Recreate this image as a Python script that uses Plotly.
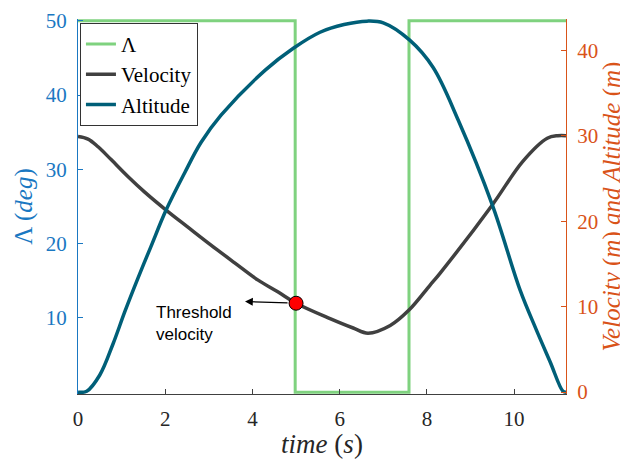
import plotly.graph_objects as go

# ---- data ----
t_lambda = [0, 4.98, 7.59, 11.19]
lam = [50, 0, 50, 50]

t_vel = [0, 0.23, 0.46, 0.76, 1.15, 1.53, 2.02, 2.52, 3.05, 3.6, 4.13, 4.59, 5.0,
         5.78, 6.31, 6.65, 7.16, 7.59, 8.07, 8.30, 9.5, 10.2, 10.76, 11.0, 11.19]
vel = [29.9, 29.6, 28.7, 27.2, 25.2, 23.4, 21.3, 19.3, 17.2, 15.1, 13.1, 11.7, 10.4,
       8.6, 7.5, 6.9, 7.8, 9.6, 12.5, 13.9, 21.9, 27.0, 29.7, 30.0, 30.0]

t_alt = [0, 0.2, 0.5, 0.8, 1.08, 1.38, 1.67, 2.02, 2.45, 2.82, 3.28, 4.3, 4.93, 5.55,
         6.1, 6.63, 7.0, 7.6, 8.14, 8.72, 9.5, 10.14, 10.5, 10.83, 11.12, 11.19]
alt = [0, 0.1, 2.0, 5.6, 9.5, 13.4, 17.0, 21.3, 25.7, 29.2, 32.4, 37.7, 40.2, 42.1,
       43.0, 43.4, 43.2, 41.2, 38.0, 31.8, 21.9, 11.9, 7.4, 3.5, 0.1, 0]

thr_t = [5.0]
thr_v = [10.4]

x_ticks = [0, 2, 4, 6, 8, 10]
left_ticks = [10, 20, 30, 40, 50]
right_ticks = [0, 10, 20, 30, 40]

BLUE = "#1a78c2"
ORANGE = "#D95319"
GREEN = "#7fd27f"
GRAY = "#404040"
TEAL = "#005f78"
SERIF = "Liberation Serif, Times New Roman, serif"

fig = go.Figure()
fig.add_trace(go.Scatter(x=t_lambda, y=lam, mode="lines", name="Λ",
                         line=dict(color=GREEN, width=3, shape="hv"), yaxis="y"))
fig.add_trace(go.Scatter(x=t_vel, y=vel, mode="lines", name="Velocity",
                         line=dict(color=GRAY, width=3.5, shape="spline", smoothing=1.0), yaxis="y2"))
fig.add_trace(go.Scatter(x=t_alt, y=alt, mode="lines", name="Altitude",
                         line=dict(color=TEAL, width=3.5, shape="spline", smoothing=1.0), yaxis="y2"))
fig.add_trace(go.Scatter(x=thr_t, y=thr_v, mode="markers", showlegend=False,
                         marker=dict(color="red", size=14, line=dict(color="black", width=1)),
                         yaxis="y2"))

fig.add_annotation(x=3.83, y=10.6, xref="x", yref="y2", ax=thr_t[0], ay=thr_v[0],
                   axref="x", ayref="y2", text="", showarrow=True, arrowhead=2,
                   arrowsize=1.3, arrowwidth=1.2, arrowcolor="black", startstandoff=7)
fig.add_annotation(x=1.75, y=8.0, xref="x", yref="y2", text="Threshold<br>velocity",
                   showarrow=False, xanchor="left", yanchor="middle", align="left",
                   font=dict(family="Liberation Sans, Arial, sans-serif", size=17, color="black"))

# page body adds an 8px offset, so the figure is 8px smaller and margins shifted
fig.update_layout(
    width=620, height=451,
    margin=dict(l=70, r=62, t=11, b=65),
    plot_bgcolor="white", paper_bgcolor="white",
    font=dict(family=SERIF, size=21),
    xaxis=dict(range=[0, 11.19], tickvals=x_ticks, showline=True, linecolor=GRAY, linewidth=1,
               ticks="inside", ticklen=5, tickcolor=GRAY, showgrid=False, zeroline=False,
               automargin=False,
               tickfont=dict(family=SERIF, size=21, color="#262626"), ticklabelstandoff=6,
               title=dict(text="<i>time</i> (<i>s</i>)", font=dict(family=SERIF, size=27, color="#262626"),
                          standoff=0)),
    yaxis=dict(range=[-0.25, 50.25], tickvals=left_ticks, showline=True, linecolor=BLUE, linewidth=1,
               ticks="inside", ticklen=5, tickcolor=BLUE, showgrid=False, zeroline=False,
               automargin=False,
               tickfont=dict(family=SERIF, size=21, color=BLUE), ticklabelstandoff=6,
               title=dict(text="Λ (<i>deg</i>)", font=dict(family=SERIF, size=25, color=BLUE), standoff=6)),
    yaxis2=dict(range=[-0.22, 43.65], tickvals=right_ticks, overlaying="y", side="right",
                showline=True, linecolor=ORANGE, linewidth=1, ticks="inside", ticklen=5,
                tickcolor=ORANGE, showgrid=False, zeroline=False, automargin=False,
                tickfont=dict(family=SERIF, size=21, color=ORANGE), ticklabelstandoff=6,
                title=dict(text="<i>Velocity</i> (<i>m</i>) <i>and Altitude</i> (<i>m</i>)",
                           font=dict(family=SERIF, size=25, color=ORANGE), standoff=0)),
    legend=dict(x=0.004, y=0.99, xanchor="left", yanchor="top", bgcolor="white",
                bordercolor="#333333", borderwidth=1, font=dict(family=SERIF, size=21, color="black"),
                itemwidth=30, tracegroupgap=0),
    showlegend=True,
)

fig.write_html("out.html")
